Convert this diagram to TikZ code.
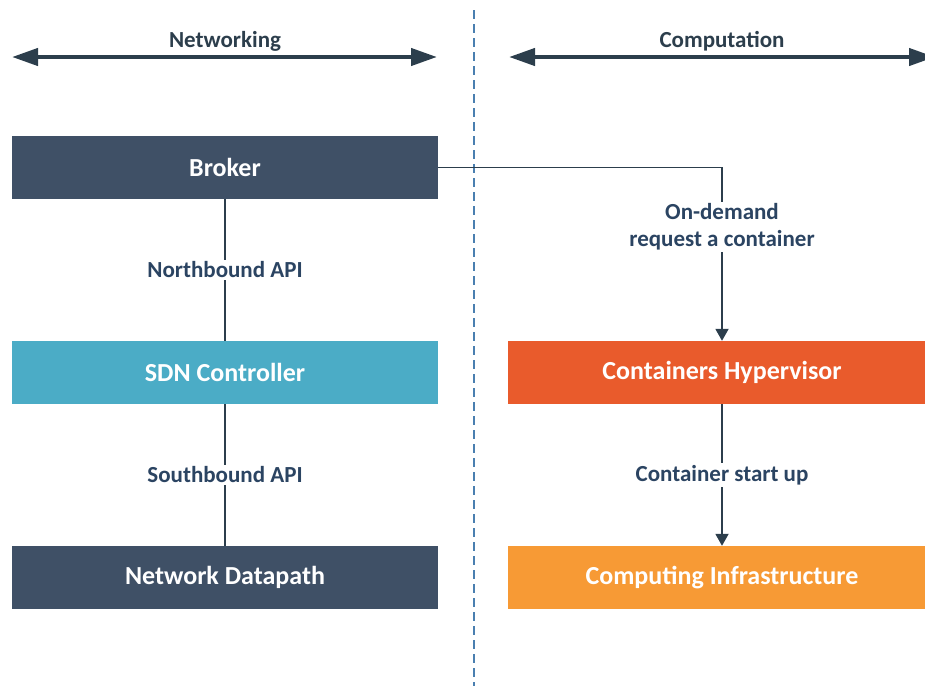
\documentclass[tikz,border=0pt]{standalone}
\usepackage{fontspec}
\setmainfont{Carlito}
\usetikzlibrary{arrows.meta}
\definecolor{darkbox}{HTML}{3F5066}
\definecolor{sdnblue}{HTML}{4BACC6}
\definecolor{hyporange}{HTML}{E95B2C}
\definecolor{infraorange}{HTML}{F79A35}
\definecolor{labelblue}{HTML}{2B4462}
\definecolor{arrowdark}{HTML}{2C3E4C}
\definecolor{dashblue}{HTML}{4A7FB0}
\tikzset{
  box/.style={rectangle, inner sep=0pt, minimum height=63pt, text=white,
    font=\fontsize{26}{29}\selectfont\bfseries},
  leftbox/.style={box, minimum width=426pt},
  rightbox/.style={box, minimum width=428pt},
  edgelabel/.style={fill=white, inner sep=2pt, text=labelblue, align=center,
    font=\fontsize{23}{27}\selectfont\bfseries},
  toplabel/.style={text=arrowdark, font=\fontsize{23}{27}\selectfont\bfseries},
  bigarrow/.style={draw=arrowdark, line width=4.2pt,
    {Triangle[length=26pt,width=17pt]}-{Triangle[length=26pt,width=17pt]}},
  plainlink/.style={draw=arrowdark, line width=1.8pt},
  downlink/.style={draw=arrowdark, line width=1.9pt, -{Triangle[length=12pt,width=13pt]}},
  divider/.style={draw=dashblue, line width=1.4pt, dash pattern=on 9pt off 5pt}
}
\begin{document}
\begin{tikzpicture}[x=1pt,y=-1pt]
\useasboundingbox (0,0) rectangle (925,686);
\clip (0,0) rectangle (925,686);
% divider
\coordinate (dtop) at (474,10);
\coordinate (dbot) at (474,686);
\draw[divider] (dtop) -- (dbot);
% top arrows
\coordinate (nl) at (12,57);
\coordinate (nr) at (437,57);
\coordinate (cl) at (509,57);
\coordinate (cr) at (935,57);
\draw[bigarrow] (nl) -- (nr);
\draw[bigarrow] (cl) -- (cr);
\node[toplabel] (netlbl) at (225,41) {Networking};
\node[toplabel] (complbl) at (722,41) {Computation};
% boxes
\node[leftbox, fill=darkbox] (broker) at (225,167.5) {Broker};
\node[leftbox, fill=sdnblue] (sdn) at (225,372.5) {SDN Controller};
\node[leftbox, fill=darkbox] (dp) at (225,577.5) {Network Datapath};
\node[rightbox, fill=hyporange] (hyp) at (722,372.5) {Containers Hypervisor};
\node[rightbox, fill=infraorange] (infra) at (722,577.5) {Computing Infrastructure};
% connectors
\draw[plainlink] (broker.south) -- (sdn.north)
  node[edgelabel, midway] (nb) {Northbound API};
\draw[plainlink] (sdn.south) -- (dp.north)
  node[edgelabel, midway] (sb) {Southbound API};
\draw[downlink] (broker.east) -| (hyp.north);
\node[edgelabel] (od) at (722,227) {On-demand\\request a container};
\draw[downlink] (hyp.south) -- (infra.north)
  node[edgelabel, midway] (cs) {Container start up};
\end{tikzpicture}
\end{document}
